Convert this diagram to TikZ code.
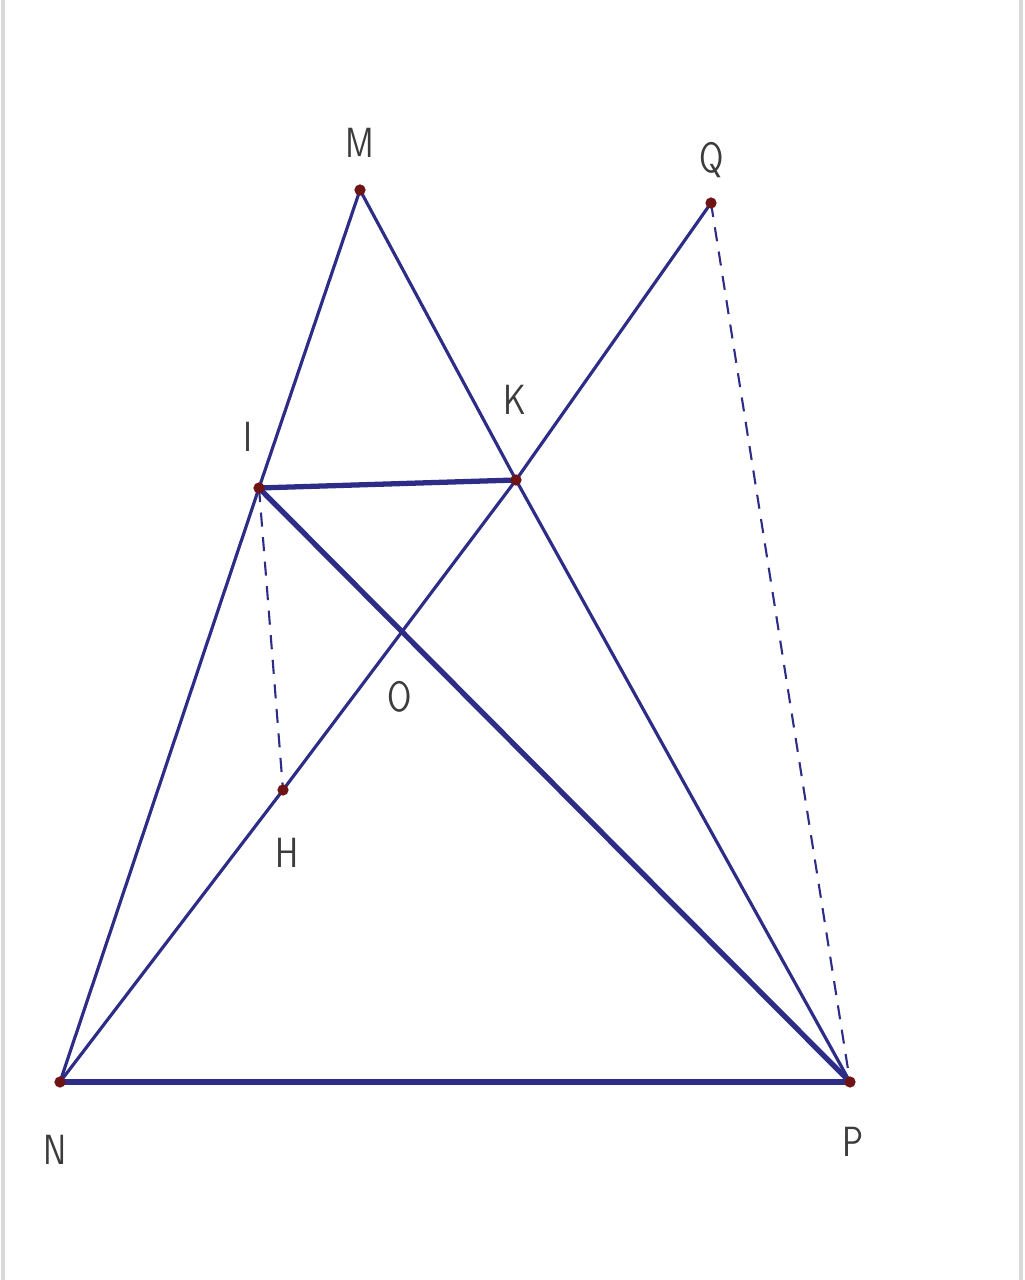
\documentclass[tikz,border=0pt]{standalone}
\usepackage{tikz}
\usetikzlibrary{intersections}
\definecolor{seg}{RGB}{45,45,135}
\definecolor{pt}{RGB}{110,20,20}
\definecolor{lab}{RGB}{60,60,60}

\begin{document}
\begin{tikzpicture}[x=0.01cm,y=-0.01cm,line join=round,
	side/.style={seg,line width=0.9pt},
	thickside/.style={seg,line width=1.5pt},
	hidden/.style={seg,line width=0.6pt,dash pattern=on 4pt off 3pt},
	lbl/.style={lab,font=\sffamily\large,xscale=0.8},
	dot/.style={pt}]
	\useasboundingbox (0,0) rectangle (1024,1280);
	\draw[black!15,line width=1pt] (3,0) -- (3,1280) (1021,0) -- (1021,1280);
	% points
	\coordinate (M) at (360,190);
	\coordinate (Q) at (711,203);
	\coordinate (I) at (259,488);
	\coordinate (K) at (516,480);
	\coordinate (H) at (283,790);
	\coordinate (N) at (60,1082);
	\coordinate (P) at (850,1082);
	% sides
	\draw[side] (N) -- (I) -- (M) -- (K) -- (P);
	\draw[side,name path=nk] (N) -- (H) -- (K) -- (Q);
	\draw[thickside,name path=ip] (I) -- (P);
	\draw[thickside] (I) -- (K);
	\draw[thickside] (N) -- (P);
	\draw[hidden] (I) -- (H);
	\draw[hidden] (Q) -- (P);
	\path[name intersections={of=nk and ip,by=O}];
	\foreach \p in {M,Q,I,K,H,N,P}
		\fill[dot] (\p) circle (1.6pt);
	% labels
	\node[lbl] (lM) at (360,143) {M};
	\node[lbl] (lQ) at (712,160) {Q};
	\node[lbl] (lK) at (515,400) {K};
	\node[lbl] (lI) at (248,437) {I};
	\node[lbl] (lO) at (400,697) {O};
	\node[lbl] (lH) at (287,853) {H};
	\node[lbl] (lN) at (55,1150) {N};
	\node[lbl] (lP) at (853,1142) {P};
\end{tikzpicture}
\end{document}
